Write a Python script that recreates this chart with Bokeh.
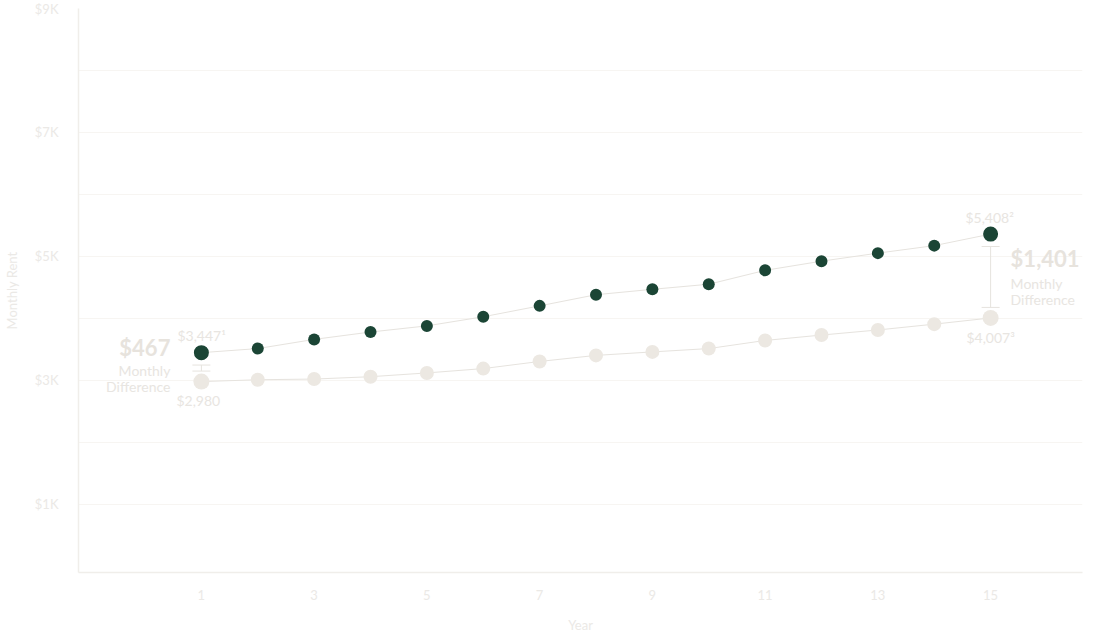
from bokeh.plotting import figure
from bokeh.models import Range1d, FixedTicker, Whisker, TeeHead, ColumnDataSource
from bokeh.core.properties import value
from bokeh.embed import file_html
from bokeh.resources import INLINE

# ---- data ----
years = list(range(1, 16))
market_rent = [3447, 3513, 3661, 3780, 3879, 4026, 4202, 4382, 4469, 4551, 4775, 4923, 5053, 5174, 5360]
your_rent = [2980, 3010, 3021, 3059, 3120, 3190, 3305, 3403, 3459, 3513, 3644, 3731, 3813, 3907, 4007]
x_ticks = [1, 3, 5, 7, 9, 11, 13, 15]
y_ticks = [1000, 3000, 5000, 7000, 9000]
y_minor = [2000, 4000, 6000, 8000]
y_tick_labels = ["$1K", "$3K", "$5K", "$7K", "$9K"]
start_top_label = "$3,447\u00b9"
start_bottom_label = "$2,980"
end_top_label = "$5,408\u00b2"
end_bottom_label = "$4,007\u00b3"
start_diff = "$467"
end_diff = "$1,401"

DARK = "#1b4535"
LIGHT = "#ece8e2"
TXT = "#e8e5e1"
TICK_TXT = "#ebe9e6"
FONT = "Lato"

p = figure(frame_width=1004, frame_height=564, output_backend="svg", toolbar_location=None,
           x_range=Range1d(-1.18, 16.63), y_range=Range1d(-100, 9000),
           min_border_left=70, min_border_right=12, min_border_top=8, min_border_bottom=60)
p.outline_line_color = None
p.background_fill_color = "white"
p.border_fill_color = "white"

# axes
p.xaxis.ticker = FixedTicker(ticks=x_ticks)
p.yaxis.ticker = FixedTicker(ticks=y_ticks, minor_ticks=y_minor)
p.yaxis.major_label_overrides = {t: l for t, l in zip(y_ticks, y_tick_labels)}
p.xaxis.axis_label = "Year"
p.yaxis.axis_label = "Monthly Rent"
for ax in (p.xaxis, p.yaxis):
    ax.major_tick_line_color = None
    ax.minor_tick_line_color = None
    ax.axis_line_color = "#f0eeea"
    ax.axis_line_width = 1.5
    ax.major_label_text_color = TICK_TXT
    ax.major_label_text_font = FONT
    ax.major_label_text_font_size = "13px"
    ax.axis_label_text_color = TICK_TXT
    ax.axis_label_text_font = FONT
    ax.axis_label_text_font_size = "13px"
    ax.axis_label_text_font_style = "normal"
p.yaxis.major_label_standoff = 14
p.yaxis.axis_label_standoff = 12
p.xaxis.major_label_standoff = 11
p.xaxis.axis_label_standoff = 14

p.xgrid.grid_line_color = None
p.ygrid.grid_line_color = "#f7f5f2"
p.ygrid.minor_grid_line_color = "#f7f5f2"

# lines
p.line(years, market_rent, line_color="#e6e3de", line_width=1)
p.line(years, your_rent, line_color="#e6e3de", line_width=1)

n = len(years)
dark_sizes = [15 if i in (0, n - 1) else 12 for i in range(n)]
light_sizes = [16 if i in (0, n - 1) else 14 for i in range(n)]
p.scatter(years, your_rent, size=light_sizes, fill_color=LIGHT, line_color=None)
p.scatter(years, market_rent, size=dark_sizes, fill_color=DARK, line_color=None)

# difference brackets
gap_top, gap_bottom = 200, 170
wsrc = ColumnDataSource(dict(
    base=[years[0], years[-1]],
    upper=[market_rent[0] - gap_top, market_rent[-1] - gap_top],
    lower=[your_rent[0] + gap_bottom, your_rent[-1] + gap_bottom],
))
w = Whisker(source=wsrc, base="base", upper="upper", lower="lower", dimension="height",
            line_color="#e6e3de", line_width=1,
            upper_head=TeeHead(size=18, line_color="#e6e3de", line_width=1),
            lower_head=TeeHead(size=18, line_color="#e6e3de", line_width=1))
p.add_layout(w)

def txt(x, y, s, xo, yo, align, size, style="normal", color=TXT):
    p.text(x=[x], y=[y], text=[s], x_offset=xo, y_offset=yo, text_align=align,
           text_baseline="middle", text_font=value(FONT), text_font_size=size,
           text_color=color, text_font_style=style)

# point labels
txt(years[0], market_rent[0], start_top_label, -24, -17, "left", "14px")
txt(years[0], your_rent[0], start_bottom_label, -25, 19, "left", "14px")
txt(years[-1], market_rent[-1], end_top_label, -1, -17, "center", "14px")
txt(years[-1], your_rent[-1], end_bottom_label, 0, 20, "center", "14px")

# difference annotations
mid0 = (market_rent[0] + your_rent[0]) / 2
mid1 = (market_rent[-1] + your_rent[-1]) / 2
txt(years[0], mid0, start_diff, -31, -20, "right", "22px", "bold", "#e7e3dd")
txt(years[0], mid0, "Monthly", -31, 3, "right", "14px")
txt(years[0], mid0, "Difference", -31, 19, "right", "14px")
txt(years[-1], mid1, end_diff, 20, -18, "left", "22px", "bold", "#e7e3dd")
txt(years[-1], mid1, "Monthly", 20, 7, "left", "14px")
txt(years[-1], mid1, "Difference", 20, 23, "left", "14px")

open("out.html", "w").write(file_html(p, INLINE))
